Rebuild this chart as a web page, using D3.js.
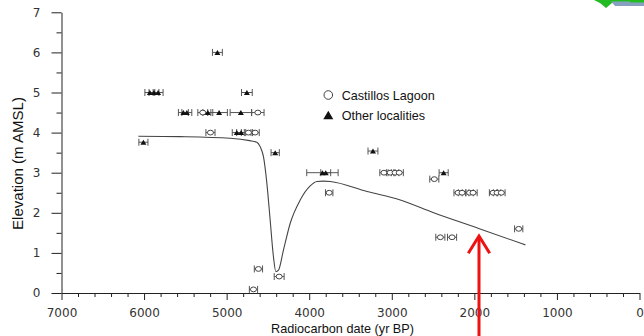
<!DOCTYPE html>
<html>
<head>
<meta charset="utf-8">
<script src="https://cdn.jsdelivr.net/npm/d3@7"></script>
<style>
  html, body { margin: 0; padding: 0; background: #fff; }
  svg { display: block; }
</style>
</head>
<body>
<svg id="chart" width="644" height="336"></svg>
<script>
// Radiocarbon-dated sea-level indicators and modelled relative sea-level curve

// Castillos Lagoon samples (open circles)
const lagoonYears = [5289, 4622, 5196, 4736, 4655, 3758, 3095, 3020, 2960, 2910, 2485,
                     2197, 2149, 2058, 2016, 1773, 1725, 1673, 2412, 2270, 1463, 4615, 4364, 4675];
const lagoonElev  = [4.5, 4.5, 4.0, 4.0, 4.0, 2.5, 3.0, 3.0, 3.0, 3.0, 2.84,
                     2.5, 2.5, 2.5, 2.5, 2.5, 2.5, 2.5, 1.39, 1.39, 1.6, 0.6, 0.41, 0.09];
const lagoonErr   = [60, 75, 55, 50, 50, 45, 50, 45, 45, 50, 55,
                     50, 45, 45, 50, 45, 45, 45, 55, 55, 50, 50, 60, 50];

// Other localities (filled triangles)
const otherYears = [5112, 5930, 5880, 5830, 4755, 5524, 5482, 5228, 5091, 4828,
                    4877, 4824, 6008, 4412, 3840, 3800, 3228, 2372];
const otherElev  = [6.0, 5.0, 5.0, 5.0, 5.0, 4.5, 4.5, 4.5, 4.5, 4.5,
                    4.0, 4.0, 3.76, 3.5, 3.0, 3.0, 3.54, 3.0];
const otherErr   = [60, 60, 60, 60, 65, 60, 60, 60, 100, 130,
                    55, 55, 55, 50, 190, 60, 60, 55];

// Modelled sea-level curve
const curveYears = [6069, 5560, 4958, 4720, 4635, 4594, 4554, 4513, 4473, 4433, 4404,
                    4372, 4312, 4230, 4109, 3988, 3907, 3830, 3745, 3300, 2897, 2493, 1948, 1382];
const curveElev  = [3.91, 3.90, 3.86, 3.80, 3.76, 3.65, 3.40, 2.74, 1.82, 0.90, 0.53,
                    0.57, 1.07, 1.74, 2.32, 2.67, 2.78, 2.79, 2.78, 2.53, 2.32, 2.00, 1.61, 1.20];

// Axis ticks
const xTicks = [7000, 6000, 5000, 4000, 3000, 2000, 1000, 0];
const yTicks = [0, 1, 2, 3, 4, 5, 6, 7];
const legendLabels = ["Castillos Lagoon", "Other localities"];

const svg = d3.select("#chart");
svg.append("rect").attr("width", 644).attr("height", 336).attr("fill", "#fff");

const x = d3.scaleLinear().domain([7000, 0]).range([61.5, 639.5]);
const y = d3.scaleLinear().domain([0, 7]).range([293, 12.3]);

const tickFont = "'DejaVu Sans', sans-serif";
const labelFont = "'Liberation Sans', Arial, sans-serif";

// ---- axes ----
const xMinor = d3.range(7000, -1, -200).filter(v => v % 1000 !== 0);
const yMinor = d3.range(0.5, 7, 1);

const gx = svg.append("g").attr("transform", `translate(0,${y(0)})`);
gx.call(d3.axisBottom(x).tickValues(xTicks).tickSize(7).tickPadding(8.5)
  .tickFormat(d3.format("d")).tickSizeOuter(0));
gx.append("g").call(d3.axisBottom(x).tickValues(xMinor).tickSize(4).tickFormat(""))
  .select(".domain").remove();

const gy = svg.append("g").attr("transform", `translate(${x(7000)},0)`);
gy.call(d3.axisLeft(y).tickValues(yTicks).tickSize(10).tickPadding(11)
  .tickFormat(d3.format("d")).tickSizeOuter(0));
gy.append("g").call(d3.axisLeft(y).tickValues(yMinor).tickSize(5).tickFormat(""))
  .select(".domain").remove();

[gx, gy].forEach(g => {
  g.selectAll("path, line").attr("stroke", "#222").attr("stroke-width", 1);
  g.selectAll("text").attr("font-family", tickFont).attr("font-size", 12).attr("fill", "#333");
});

// axis titles
svg.append("text")
  .attr("x", 342.5).attr("y", 333)
  .attr("text-anchor", "middle")
  .attr("font-family", labelFont).attr("font-size", 13)
  .attr("textLength", 143).attr("lengthAdjust", "spacingAndGlyphs")
  .attr("fill", "#111")
  .text("Radiocarbon date (yr BP)");

svg.append("text")
  .attr("transform", "translate(23,163.5) rotate(-90)")
  .attr("text-anchor", "middle")
  .attr("font-family", labelFont).attr("font-size", 14.5)
  .attr("textLength", 133).attr("lengthAdjust", "spacingAndGlyphs")
  .attr("fill", "#111")
  .text("Elevation (m AMSL)");

// ---- model curve ----
const curvePts = curveYears.map((yr, i) => [yr, curveElev[i]]);
svg.append("path")
  .datum(curvePts)
  .attr("fill", "none")
  .attr("stroke", "#444")
  .attr("stroke-width", 1.1)
  .attr("d", d3.line().x(d => x(d[0])).y(d => y(d[1])).curve(d3.curveMonotoneX));

// ---- error bars ----
function errorBars(years, elev, err) {
  const g = svg.append("g").attr("stroke", "#555").attr("stroke-width", 1);
  years.forEach((yr, i) => {
    const yy = y(elev[i]);
    const x1 = x(yr + err[i]), x2 = x(yr - err[i]);
    g.append("line").attr("x1", x1).attr("x2", x2).attr("y1", yy).attr("y2", yy);
    g.append("line").attr("x1", x1).attr("x2", x1).attr("y1", yy - 3.5).attr("y2", yy + 3.5);
    g.append("line").attr("x1", x2).attr("x2", x2).attr("y1", yy - 3.5).attr("y2", yy + 3.5);
  });
}
errorBars(lagoonYears, lagoonElev, lagoonErr);
errorBars(otherYears, otherElev, otherErr);

// ---- markers ----
svg.append("g").selectAll("ellipse")
  .data(lagoonYears.map((yr, i) => [yr, lagoonElev[i]]))
  .join("ellipse")
  .attr("cx", d => x(d[0])).attr("cy", d => y(d[1]))
  .attr("rx", 3).attr("ry", 2.4)
  .attr("fill", "#fff").attr("stroke", "#444").attr("stroke-width", 1);

const tri = (cx, cy, w, h) =>
  `M${cx - w / 2},${cy + h / 2}L${cx},${cy - h / 2}L${cx + w / 2},${cy + h / 2}Z`;

svg.append("g").selectAll("path")
  .data(otherYears.map((yr, i) => [yr, otherElev[i]]))
  .join("path")
  .attr("d", d => tri(x(d[0]), y(d[1]), 6, 5))
  .attr("fill", "#111");

// ---- legend ----
const lg = svg.append("g");
lg.append("circle").attr("cx", 328.3).attr("cy", 95).attr("r", 4.3)
  .attr("fill", "#fff").attr("stroke", "#444").attr("stroke-width", 1);
lg.append("path").attr("d", tri(328.3, 115, 10, 8.5)).attr("fill", "#111");
lg.selectAll("text").data(legendLabels).join("text")
  .attr("x", 341.7).attr("y", (d, i) => 99.5 + i * 20)
  .attr("font-family", labelFont).attr("font-size", 12.6)
  .attr("fill", "#111")
  .text(d => d);

// ---- pointer arrow ----
const ar = svg.append("g").attr("stroke", "#ee1111").attr("stroke-width", 3)
  .attr("fill", "none").attr("stroke-linecap", "butt");
ar.append("line").attr("x1", 479).attr("x2", 479).attr("y1", 237).attr("y2", 336);
ar.append("polyline").attr("points", "468.3,253.3 479,236 489.7,253.3")
  .attr("stroke-linejoin", "miter");

// ---- corner graphic fragment ----
svg.append("polygon").attr("points", "594,0 644,0 644,3 612,3 606,8 600,3")
  .attr("fill", "#22bb22");
svg.append("polygon").attr("points", "611,1.5 644,1.5 644,6 615,6")
  .attr("fill", "#88a0c0");
svg.append("polygon").attr("points", "630,0 644,0 644,2.5 630,2.5")
  .attr("fill", "#22bb22");
</script>
</body>
</html>
